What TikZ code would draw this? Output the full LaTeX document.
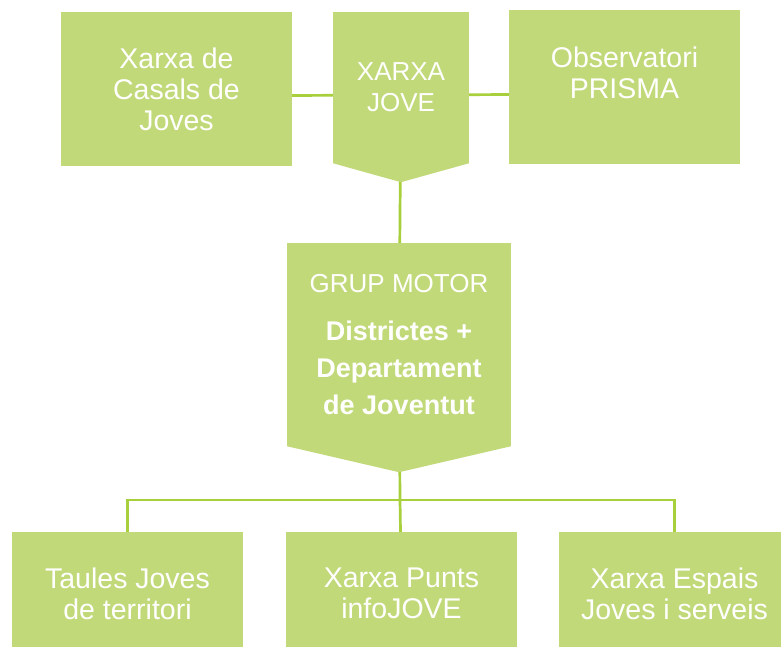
\documentclass[tikz,border=0pt]{standalone}
\usepackage{fontspec}
\setmainfont{Liberation Sans}
\usetikzlibrary{positioning,calc,backgrounds}
\definecolor{jovegreen}{HTML}{C1D979}
\definecolor{joveline}{HTML}{A8CF3C}
\newcommand{\gmbold}[1]{{\fontsize{27}{31}\selectfont\bfseries #1}}
\tikzset{
    boxtext/.style={text=white,align=center,inner sep=0pt,font=\fontsize{28.5}{31}\selectfont},
    box/.style={boxtext,fill=jovegreen,minimum width=231pt,minimum height=154pt},
    capsbox/.style={box,font=\fontsize{26}{31}\selectfont},
    lowbox/.style={box,minimum height=123pt},
    tip/.style={fill=jovegreen},
    link/.style={draw=joveline,line width=2.7pt},
}

\begin{document}
\begin{tikzpicture}[x=1pt,y=-1pt]
    \clip (0,0) rectangle (781,646);

    % top row
    \node[box] (casals) at (176.5,89) {Xarxa de\\Casals de\\Joves};
    \node[capsbox,minimum width=136pt,minimum height=151pt] (xj) at (401,87.5) {XARXA\\JOVE};
    \node[box,label={[boxtext,anchor=north,yshift=-37pt]north:Observatori\\PRISMA}] (prisma) at (624.5,87) {};
    \fill[tip] (xj.south west) -- ([yshift=-19pt]xj.south) -- (xj.south east) -- cycle;

    % grup motor
    \node[capsbox,minimum width=224pt,minimum height=203pt] (gm) at (399,344.5)
        {GRUP MOTOR\\[17pt]\gmbold{Districtes +}\\[6pt]\gmbold{Departament}\\[6pt]\gmbold{de Joventut}};
    \fill[tip] (gm.south west) -- ([yshift=-26pt]gm.south) -- (gm.south east) -- cycle;

    % bottom row
    \node[lowbox] (taules) at (127.5,593.5) {Taules Joves\\de territori};
    \node[lowbox] (infojove) at (401.5,593.5) {Xarxa Punts\\infoJOVE};
    \node[lowbox] (espais) at (674.5,593.5) {Xarxa Espais\\Joves i serveis};
    \coordinate (bus) at (400,500);

    \begin{scope}[on background layer]
        \draw[link] ([yshift=-7pt]casals.center) -- ([yshift=-7pt]prisma.center);
        \draw[link] (xj.center) -- (gm.center);
        \draw[link] (gm.center) -- (bus);
        \draw[link] (taules.center) |- (bus) -| (espais.center);
        \draw[link] (bus) -- (infojove.center);
    \end{scope}
\end{tikzpicture}
\end{document}
